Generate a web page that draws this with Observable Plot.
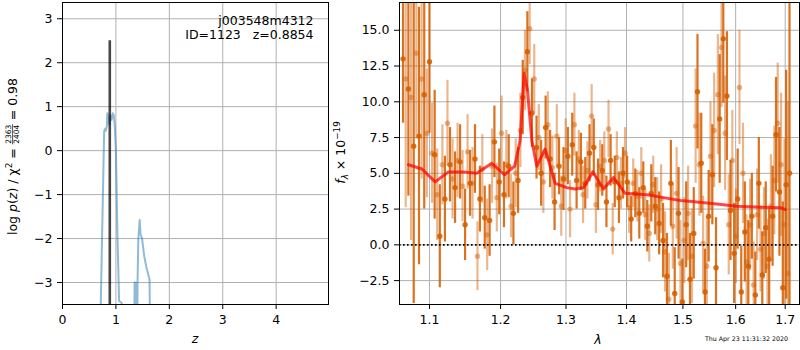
<!DOCTYPE html>
<html><head><meta charset="utf-8">
<script src="https://cdn.jsdelivr.net/npm/d3@7"></script>
<script src="https://cdn.jsdelivr.net/npm/@observablehq/plot@0.6"></script>
<style>
body{margin:0;background:#fff;}
#fig{position:relative;width:800px;height:350px;font-family:"DejaVu Sans",sans-serif;background:#fff;}
#fig svg{position:absolute;top:0;overflow:visible;}
</style></head><body><div id="fig"></div>
<script>
// ---------- left panel: p(z) ----------
const zTicks = [0, 1, 2, 3, 4];
const logpTicks = [-3, -2, -1, 0, 1, 2, 3];
const pzZ    = [0.70, 0.78, 0.80, 0.81, 0.83, 0.84, 0.86, 0.88, 0.90, 0.92, 0.94, 0.96, 0.98, 1.00, 1.03, 1.06, 1.10, 1.13, 1.20, 1.34, 1.35, 1.37, 1.38, 1.40, 1.405, 1.42, 1.445, 1.46, 1.49, 1.53, 1.57, 1.63, 1.64, 1.80];
const pzLogP = [-4.5, 0.45, 0.50, 0.45, 0.55, 0.85, 0.75, 0.60, 0.80, 0.70, 0.85, 0.80, 0.55, 0.0, -2.0, -3.42, -3.45, -3.55, -4.5, -4.5, -3.0, -3.0, -4.5, -4.5, -3.0, -2.0, -1.58, -1.9, -2.0, -2.4, -2.65, -2.93, -4.5, -6.0];
const zBest = 0.8854;
const zBestTop = 2.5;
const fieldName = "j003548m4312";
const objLabel = "ID=1123\u00a0\u00a0\u00a0z=0.8854";

// ---------- right panel: spectrum ----------
const lamTicks = [1.1, 1.2, 1.3, 1.4, 1.5, 1.6, 1.7];
const fluxTicks = [-2.5, 0, 2.5, 5, 7.5, 10, 12.5, 15];
const lamA = [1.065,1.072,1.079,1.086,1.093,1.100,1.107,1.114,1.121,1.128,1.135,1.142,1.149,1.156,1.163,1.170,1.177,1.184,1.191,1.198,1.205,1.212,1.219,1.226,1.233,1.240,1.247,1.254,1.261,1.268,1.275,1.282,1.289,1.296,1.303,1.310,1.317,1.324,1.331,1.338,1.345,1.352,1.359,1.366,1.373,1.380,1.387,1.394,1.401,1.408,1.415,1.422,1.429,1.436,1.443,1.450,1.457,1.464,1.471,1.478,1.485,1.492,1.499,1.506,1.513,1.520,1.527,1.534,1.541,1.548,1.555,1.562,1.569,1.576,1.583,1.590,1.597,1.604,1.611,1.618,1.625,1.632,1.639,1.646,1.653,1.660,1.667,1.674,1.681,1.688,1.695,1.702,1.709];
const fluxA = [13.0,10.9,6.9,7.6,10.5,12.8,6.3,0.6,3.2,5.6,4.0,5.8,1.4,4.3,6.0,3.2,1.9,1.7,7.2,4.4,3.5,5.5,2.2,4.5,10.3,13.5,9.2,6.8,5.0,8.2,6.0,3.0,5.5,4.6,6.2,7.0,4.5,5.8,4.3,6.4,6.8,4.2,5.2,3.0,5.9,4.4,3.3,5.0,4.4,1.8,3.6,2.2,4.0,1.3,3.6,2.7,1.5,0.3,-2.2,4.3,-3.4,2.2,-4.0,1.4,-2.4,0.8,10.7,5.7,-3.3,2.0,4.9,-1.6,8.8,14.4,10.4,2.4,-0.6,3.2,-3.3,0.9,-1.5,2.0,-3.5,4.3,-2.1,1.2,-1.0,2.0,7.7,3.7,-3.0,4.2,5.0];
const errA  = [4.5,7.5,11,9,8,5,4.5,3.6,3,2.6,2.5,2.6,2.5,2.3,2.4,2.3,2.2,2.5,2.5,2.3,2.3,2.2,2.2,2.3,2.6,2.8,2.4,2.2,2.3,2.2,2.0,2.0,2.0,2.2,2.0,2.2,2.0,2.0,1.8,2.0,2.0,1.8,1.8,1.8,1.8,1.8,1.8,1.8,1.8,1.6,1.7,1.8,1.8,1.8,2.0,2.0,2.2,2.6,3.0,3.0,3.2,3.2,3.0,3.0,3.2,3.2,4.0,3.5,3.0,3.2,3.5,3.5,4.5,4.5,4.5,3.5,3.5,3.5,3.2,3.5,3.2,3.0,3.0,3.2,3.0,3.2,3.5,3.5,4.0,4.5,6.0,8,14];
const lamB = [1.0685,1.0755,1.0825,1.0895,1.0965,1.1035,1.1105,1.1175,1.1245,1.1315,1.1385,1.1455,1.1525,1.1595,1.1665,1.1735,1.1805,1.1875,1.1945,1.2015,1.2085,1.2155,1.2225,1.2295,1.2365,1.2435,1.2505,1.2575,1.2645,1.2715,1.2785,1.2855,1.2925,1.2995,1.3065,1.3135,1.3205,1.3275,1.3345,1.3415,1.3485,1.3555,1.3625,1.3695,1.3765,1.3835,1.3905,1.3975,1.4045,1.4115,1.4185,1.4255,1.4325,1.4395,1.4465,1.4535,1.4605,1.4675,1.4745,1.4815,1.4885,1.4955,1.5025,1.5095,1.5165,1.5235,1.5305,1.5375,1.5445,1.5515,1.5585,1.5655,1.5725,1.5795,1.5865,1.5935,1.6005,1.6075,1.6145,1.6215,1.6285,1.6355,1.6425,1.6495,1.6565,1.6635,1.6705,1.6775,1.6845,1.6915,1.6985,1.7055];
const fluxB = [11.6,10.3,13.4,11.6,7.8,6.4,3.5,5.6,8.5,4.6,5.9,4.1,6.5,4.3,-0.8,5.3,0.7,5.5,3.3,7.8,5.6,2.7,5.0,8.0,12.2,15.1,11.6,7.5,4.4,8.4,5.4,7.6,2.7,6.6,2.5,8.4,6.0,3.5,5.2,9.0,2.8,5.5,5.9,8.1,1.1,6.1,4.3,6.4,2.6,4.3,3.4,5.0,2.1,0.8,4.2,2.5,3.2,-0.5,-3.8,1.3,3.6,-1.3,0.3,2.2,-0.8,8.3,5.6,0.1,-1.5,6.2,8.0,10.5,13.8,7.8,1.4,5.9,0.6,11.0,5.0,-1.2,1.4,-2.8,2.1,-0.3,0.8,-1.5,2.7,4.5,8.5,5.6,1.4,-2.0];
const errB  = [9,10,6,7,4.5,3.5,3.2,2.8,3.0,2.8,2.6,2.5,2.6,2.5,2.4,2.4,2.5,2.6,2.4,2.6,2.4,2.2,2.4,2.6,2.8,2.5,2.4,2.3,2.2,2.3,2.2,2.2,2.1,2.2,2.0,2.2,2.0,2.0,2.0,2.2,2.0,1.8,2.0,2.0,1.8,1.8,1.8,1.8,1.8,1.7,1.8,1.8,1.8,2.0,2.0,2.2,2.4,2.8,3.2,3.0,3.2,3.0,3.0,3.3,3.3,4.0,3.6,3.3,3.5,3.8,4.0,4.2,4.2,4.0,3.5,3.5,3.3,4.0,3.5,3.3,3.2,3.0,3.2,3.0,3.2,3.3,3.6,3.8,4.2,5.0,6.0,12];
const modelLam  = [1.072,1.090,1.1077,1.1259,1.1467,1.1656,1.1872,1.2058,1.2209,1.2291,1.2351,1.2402,1.2468,1.2544,1.2673,1.2829,1.3014,1.3147,1.3282,1.3434,1.3611,1.3778,1.3977,1.4352,1.4648,1.4951,1.5259,1.5637,1.6024,1.6556,1.6898,1.7002];
const modelFlux = [5.6,5.3,4.4,5.1,5.1,5.0,5.7,4.9,5.5,7.3,12.0,10.8,7.3,5.5,6.7,4.3,4.0,3.9,4.0,5.1,3.9,4.7,3.6,3.5,3.3,3.1,3.0,2.86,2.7,2.63,2.6,2.47];
const timestamp = "Thu Apr 23 11:31:32 2020";

// ---------- build tables ----------
function check(a, b, name) { if (a.length !== b.length) throw new Error(name + " length mismatch " + a.length + " vs " + b.length); }
check(pzZ, pzLogP, "pz"); check(lamA, fluxA, "A"); check(lamA, errA, "Aerr");
check(lamB, fluxB, "B"); check(lamB, errB, "Berr"); check(modelLam, modelFlux, "model");
const pz = pzZ.map((z, i) => ({z, logp: pzLogP[i]}));
const specA = lamA.map((lam, i) => ({lam, f: fluxA[i], e: errA[i]}));
const specB = lamB.map((lam, i) => ({lam, f: fluxB[i], e: errB[i]}));
const model = modelLam.map((lam, i) => ({lam, f: modelFlux[i]}));
const best = [{z: zBest, lo: -3.5, hi: zBestTop}];

const fig = document.getElementById("fig");
const baseStyle = {fontFamily: "DejaVu Sans", fontSize: "12.5px", color: "black", background: "transparent", overflow: "visible"};
const gridStyle = {stroke: "#b0b0b0", strokeOpacity: 1, strokeWidth: 1};
const orange = "#d55e00";

const left = Plot.plot({
  width: 340, height: 350,
  marginLeft: 62, marginRight: 12, marginTop: 2, marginBottom: 46,
  style: baseStyle,
  x: {domain: [0, 4.98], ticks: zTicks, tickFormat: "d", tickSize: 5, tickPadding: 6, label: null},
  y: {domain: [-3.5, 3.37], ticks: logpTicks, tickFormat: "d", tickSize: 5, tickPadding: 5, label: null},
  marks: [
    Plot.gridX(zTicks, gridStyle),
    Plot.gridY(logpTicks, gridStyle),
    Plot.line(pz, {x: "z", y: "logp", stroke: "#1f77b4", strokeOpacity: 0.5, strokeWidth: 2, clip: true}),
    Plot.ruleX(best, {x: "z", y1: "lo", y2: "hi", stroke: "black", strokeOpacity: 0.72, strokeWidth: 2.6}),
    Plot.frame({stroke: "black", strokeWidth: 1})
  ]
});
left.style.left = "0px";
fig.appendChild(left);

const right = Plot.plot({
  width: 470, height: 350,
  marginLeft: 69, marginRight: 1, marginTop: 2, marginBottom: 46,
  style: baseStyle,
  x: {type: "log", domain: [1.0604, 1.730], ticks: lamTicks, tickFormat: ".1f", tickSize: 5, tickPadding: 6, label: null},
  y: {domain: [-4.17, 16.94], ticks: fluxTicks, tickFormat: ".1f", tickSize: 5, tickPadding: 5, label: null},
  marks: [
    Plot.gridX(lamTicks, gridStyle),
    Plot.gridY(fluxTicks, gridStyle),
    Plot.ruleX(specB, {x: "lam", y1: d => d.f - d.e, y2: d => d.f + d.e, stroke: orange, strokeOpacity: 0.45, strokeWidth: 2.2, clip: true}),
    Plot.dot(specB, {x: "lam", y: "f", r: 2.7, fill: orange, fillOpacity: 0.45, clip: true}),
    Plot.ruleX(specA, {x: "lam", y1: d => d.f - d.e, y2: d => d.f + d.e, stroke: orange, strokeOpacity: 0.88, strokeWidth: 2.2, clip: true}),
    Plot.dot(specA, {x: "lam", y: "f", r: 2.7, fill: orange, fillOpacity: 0.88, clip: true}),
    Plot.line(model, {x: "lam", y: "f", stroke: "#ff0000", strokeOpacity: 0.72, strokeWidth: 3, clip: true}),
    Plot.ruleY([0], {stroke: "black", strokeWidth: 1.6, strokeDasharray: "1.6,2.4"}),
    Plot.frame({stroke: "black", strokeWidth: 1})
  ]
});
right.style.left = "330px";
fig.appendChild(right);

// ---------- overlay texts ----------
const ov = d3.select(fig).append("svg")
  .attr("width", 800).attr("height", 350)
  .style("left", "0px").style("top", "0px").style("pointer-events", "none")
  .style("font-family", "DejaVu Sans");

// left y label: log p(z) / χ² = 2363/2404 = 0.98
{
  const g = ov.append("g").attr("transform", "translate(17,156.5) rotate(-90)");
  const inner = g.append("g");
  const t1 = inner.append("text").attr("font-size", 12.5);
  t1.append("tspan").text("log\u00a0");
  t1.append("tspan").attr("font-style", "italic").text("p");
  t1.append("tspan").text("(");
  t1.append("tspan").attr("font-style", "italic").text("z");
  t1.append("tspan").text(")\u00a0/\u00a0χ");
  t1.append("tspan").attr("font-size", 8.8).attr("dy", -5).text("2");
  t1.append("tspan").attr("dy", 5).text("\u00a0=\u00a0");
  const L1 = t1.node().getComputedTextLength();
  const num = inner.append("text").attr("font-size", 7.5).attr("text-anchor", "middle").attr("y", -5.6).text("2363");
  const den = inner.append("text").attr("font-size", 7.5).attr("text-anchor", "middle").attr("y", 2.0).text("2404");
  const fw = Math.max(num.node().getComputedTextLength(), den.node().getComputedTextLength()) + 1;
  num.attr("x", L1 + fw / 2); den.attr("x", L1 + fw / 2);
  inner.append("line").attr("x1", L1).attr("x2", L1 + fw).attr("y1", -4.4).attr("y2", -4.4).attr("stroke", "black").attr("stroke-width", 0.7);
  const t3 = inner.append("text").attr("font-size", 12.5).attr("x", L1 + fw).text("\u00a0=\u00a00.98");
  const W = L1 + fw + t3.node().getComputedTextLength();
  inner.attr("transform", `translate(${-W / 2},0)`);
}
// right y label: f_λ × 10^−19
{
  const g = ov.append("g").attr("transform", "translate(345,152.5) rotate(-90)");
  const t = g.append("text").attr("font-size", 12.5).attr("text-anchor", "middle");
  t.append("tspan").attr("font-style", "italic").text("f");
  t.append("tspan").attr("font-size", 8.8).attr("font-style", "italic").attr("dy", 3).text("λ");
  t.append("tspan").attr("dy", -3).text("\u00a0×\u00a010");
  t.append("tspan").attr("font-size", 8.8).attr("dy", -5).text("−19");
}
ov.append("text").attr("x", 195).attr("y", 343).attr("font-size", 12.5).attr("font-style", "italic").attr("text-anchor", "middle").text("z");
ov.append("text").attr("x", 598).attr("y", 344).attr("font-size", 12.5).attr("font-style", "italic").attr("text-anchor", "middle").text("λ");
ov.append("text").attr("x", 313.5).attr("y", 24.5).attr("font-size", 12.5).attr("text-anchor", "end").text(fieldName);
ov.append("text").attr("x", 313.5).attr("y", 38.8).attr("font-size", 12.5).attr("text-anchor", "end").text(objLabel);
ov.append("text").attr("x", 788).attr("y", 341).attr("font-size", 6.3).attr("text-anchor", "end").text(timestamp);
</script>
</body></html>
